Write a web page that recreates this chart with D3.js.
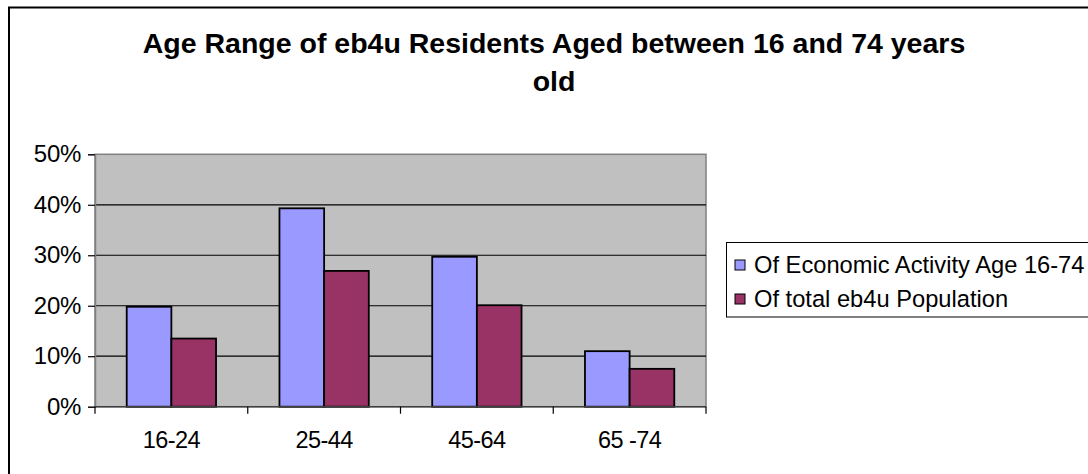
<!DOCTYPE html>
<html>
<head>
<meta charset="utf-8">
<script src="https://cdn.jsdelivr.net/npm/d3@7"></script>
<style>
  html, body { margin: 0; padding: 0; background: #fff; }
  svg { display: block; }
  text { font-family: "Liberation Sans", Arial, sans-serif; fill: #000; }
</style>
</head>
<body>
<svg id="chart" width="1088" height="474"></svg>
<script>
const categories = ["16-24", "25-44", "45-64", "65 -74"];
const seriesNames = ["Of Economic Activity Age 16-74", "Of total eb4u Population"];
const economicActivity = [0.198, 0.393, 0.297, 0.110];
const totalPopulation = [0.135, 0.269, 0.201, 0.075];
const yTicks = [0, 0.1, 0.2, 0.3, 0.4, 0.5];
const titleLines = ["Age Range of eb4u Residents Aged between 16 and 74 years", "old"];
const colors = ["#9999FF", "#993366"];

const seriesValues = [economicActivity, totalPopulation];
const svg = d3.select("#chart");

// outer chart border
svg.append("rect")
  .attr("x", 9).attr("y", 7.5).attr("width", 1100).attr("height", 480)
  .attr("fill", "#fff").attr("stroke", "#000").attr("stroke-width", 2);

// title
const title = svg.append("text")
  .attr("text-anchor", "middle")
  .attr("font-weight", "bold")
  .attr("font-size", 28.5);
titleLines.forEach((t, i) => {
  title.append("tspan").attr("x", 554).attr("y", 53 + i * 38).text(t);
});

const plot = { left: 95, right: 706, top: 154.3, bottom: 406.7 };

const x0 = d3.scaleBand().domain(categories).range([plot.left, plot.right]).paddingInner(0).paddingOuter(0);
const x1 = d3.scaleBand().domain(d3.range(seriesNames.length)).range([0, x0.bandwidth()]).paddingInner(0).paddingOuter(0.71);
const y = d3.scaleLinear().domain([0, 0.5]).range([plot.bottom, plot.top]);

// plot background
svg.append("rect")
  .attr("x", plot.left).attr("y", plot.top)
  .attr("width", plot.right - plot.left).attr("height", plot.bottom - plot.top)
  .attr("fill", "#C0C0C0").attr("stroke", "#808080").attr("stroke-width", 1.5);

// gridlines
svg.append("g").selectAll("line")
  .data(yTicks.filter(d => d > 0 && d < 0.5))
  .join("line")
  .attr("x1", plot.left).attr("x2", plot.right)
  .attr("y1", d => y(d)).attr("y2", d => y(d))
  .attr("stroke", "#000").attr("stroke-width", 1.2);

// bars
const groups = svg.append("g").selectAll("g")
  .data(categories)
  .join("g")
  .attr("transform", d => `translate(${x0(d)},0)`);
groups.selectAll("rect")
  .data((d, i) => seriesValues.map((s, k) => ({ k, v: s[i] })))
  .join("rect")
  .attr("x", d => x1(d.k))
  .attr("width", x1.bandwidth())
  .attr("y", d => y(d.v))
  .attr("height", d => y(0) - y(d.v))
  .attr("fill", d => colors[d.k])
  .attr("stroke", "#000").attr("stroke-width", 1.8);

// y axis
const yAxis = d3.axisLeft(y).tickValues(yTicks).tickFormat(d3.format(".0%")).tickSize(7).tickPadding(7);
const gy = svg.append("g").attr("transform", `translate(${plot.left},0)`).call(yAxis);
gy.select(".domain").attr("stroke", "#808080").attr("stroke-width", 1.5);
gy.selectAll(".tick line").attr("stroke", "#000").attr("stroke-width", 1.2);
gy.selectAll(".tick text").attr("font-size", 24).attr("font-family", "Liberation Sans, Arial, sans-serif").attr("letter-spacing", -0.3);

// x axis: tick marks at category boundaries
const boundaries = categories.map(c => x0(c)).concat([plot.right]);
svg.append("line")
  .attr("x1", plot.left).attr("x2", plot.right)
  .attr("y1", plot.bottom).attr("y2", plot.bottom)
  .attr("stroke", "#404040").attr("stroke-width", 1.5);
svg.append("g").selectAll("line")
  .data(boundaries)
  .join("line")
  .attr("x1", d => d).attr("x2", d => d)
  .attr("y1", plot.bottom).attr("y2", plot.bottom + 7)
  .attr("stroke", "#000").attr("stroke-width", 1.2);
const xAxis = d3.axisBottom(x0).tickSize(0).tickPadding(0);
const gx = svg.append("g").attr("transform", `translate(0,${plot.bottom})`).call(xAxis);
gx.select(".domain").remove();
gx.selectAll(".tick text")
  .attr("font-size", 23.5).attr("font-family", "Liberation Sans, Arial, sans-serif")
  .attr("letter-spacing", -0.6).attr("dy", 0).attr("y", 41);

// legend
const legend = svg.append("g");
legend.append("rect")
  .attr("x", 726.5).attr("y", 242.5).attr("width", 380).attr("height", 74.5)
  .attr("fill", "#fff").attr("stroke", "#000").attr("stroke-width", 1);
const items = legend.selectAll("g.item")
  .data(seriesNames)
  .join("g").attr("class", "item")
  .attr("transform", (d, i) => `translate(0,${i * 34})`);
items.append("rect")
  .attr("x", 735).attr("y", 260).attr("width", 10).attr("height", 10)
  .attr("fill", (d, i) => colors[i]).attr("stroke", "#000").attr("stroke-width", 1);
items.append("text")
  .attr("x", 754).attr("y", 272.5)
  .attr("font-size", 23.7)
  .text(d => d);
</script>
</body>
</html>
